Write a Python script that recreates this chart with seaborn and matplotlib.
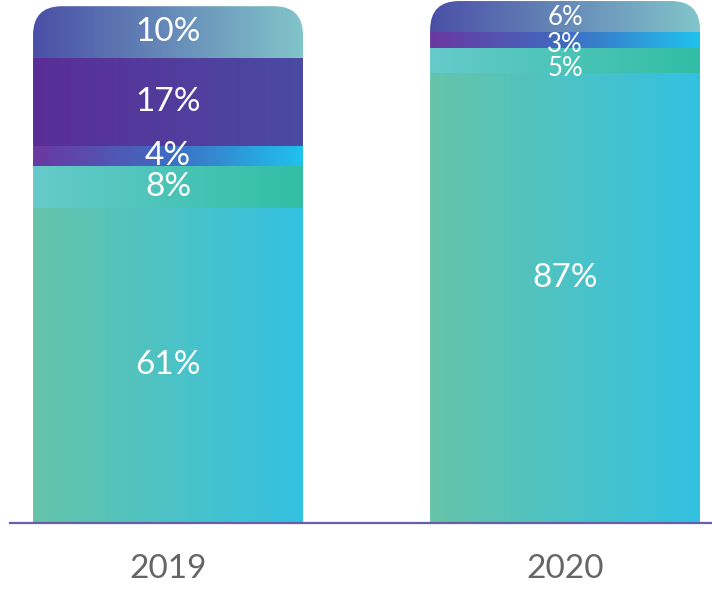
import numpy as np
import pandas as pd
import matplotlib
matplotlib.use("Agg")
import matplotlib.pyplot as plt
import seaborn as sns
from matplotlib.colors import LinearSegmentedColormap
from matplotlib.patches import FancyBboxPatch

# Share of each tier per year, listed bottom to top of the stack
years = ["2019", "2020"]
tiers = ["tier_1", "tier_2", "tier_3", "tier_4", "tier_5"]
share_2019 = [61, 8, 4, 17, 10]
share_2020 = [87, 5, 3, 0, 6]

# Horizontal gradient (left colour, right colour) for each tier
tier_gradients = [
    ["#66c4a9", "#33c1e2"],
    ["#66cacb", "#31bea5"],
    ["#6b389f", "#3f6bc2", "#1fc2ee"],
    ["#5a2d96", "#4a4ba3"],
    ["#4a4fa6", "#82c5ca"],
]

rows = []
for year, shares in zip(years, [share_2019, share_2020]):
    cum = 0
    for tier, v in zip(tiers, shares):
        rows.append({"year": year, "tier": tier, "share": v,
                     "bottom": cum, "top": cum + v})
        cum += v
df = pd.DataFrame(rows)

sns.set_theme(style="white")
plt.rcParams["font.family"] = ["Lato", "DejaVu Sans"]

W, H = 712, 590
fig = plt.figure(figsize=(W / 100, H / 100), dpi=100)
ax = fig.add_axes([10 / W, (H - 523) / H, 702 / W, 523 / H])

bar_w = 0.68
# Draw the cumulative stack with seaborn, top tier first so lower tiers overlay
layer_patches = {}
for tier in reversed(tiers):
    sub = df[df["tier"] == tier]
    n0 = len(ax.patches)
    sns.barplot(data=sub, x="year", y="top", order=years, ax=ax,
                width=bar_w, color="#888888", saturation=1, errorbar=None)
    layer_patches[tier] = ax.patches[n0:]

ax.set_xlim(-0.398, 1.370)
ax.set_ylim(0, 101.2)

# rounded top-corner clip shape per bar, in data units
px_x = ax.transData.transform((1, 0))[0] - ax.transData.transform((0, 0))[0]
px_y = ax.transData.transform((0, 1))[1] - ax.transData.transform((0, 0))[1]
radius_px = 29
r_x = radius_px / px_x
aspect = px_x / px_y

clips = {}
for i, year in enumerate(years):
    top = df[df["year"] == year]["top"].max()
    clip = FancyBboxPatch((i - bar_w / 2, -30), bar_w, top + 30,
                          boxstyle=f"round,pad=0,rounding_size={r_x}",
                          mutation_aspect=aspect, transform=ax.transData,
                          facecolor="none", edgecolor="none")
    ax.add_patch(clip)
    clips[year] = clip

# value label sizes and small vertical nudges (data units) per year
label_size = {"2019": 24, "2020": 18.5}
label_nudge = {"2019": [0, 0, 0, 0, 0], "2020": [4, -1.6, -0.9, 0, -0.2]}

grad = np.linspace(0, 1, 256).reshape(1, -1)
for ti, tier in enumerate(tiers):
    cmap = LinearSegmentedColormap.from_list(tier, tier_gradients[ti])
    for patch in layer_patches[tier]:
        patch.set_visible(False)
    for i, year in enumerate(years):
        row = df[(df["year"] == year) & (df["tier"] == tier)].iloc[0]
        if row["share"] <= 0:
            continue
        x0 = i - bar_w / 2
        im = ax.imshow(grad, cmap=cmap, aspect="auto", interpolation="bicubic",
                       extent=[x0, x0 + bar_w, row["bottom"], row["top"]],
                       zorder=2)
        im.set_clip_path(clips[year])
        y_lab = (row["bottom"] + row["top"]) / 2 + label_nudge[year][ti]
        size = label_size[year] if row["share"] < 10 or year == "2019" else 24
        ax.text(i, y_lab, f"{row['share']}%",
                ha="center", va="center", color="white",
                fontsize=size, fontweight="normal", zorder=3)

ax.set_xlim(-0.398, 1.370)
ax.set_ylim(0, 101.2)

for side in ["top", "right", "left"]:
    ax.spines[side].set_visible(False)
ax.spines["bottom"].set_color("#6b5ca8")
ax.spines["bottom"].set_linewidth(1.6)
ax.spines["bottom"].set_zorder(4)
ax.set_yticks([])
ax.set_xlabel("")
ax.set_ylabel("")
ax.tick_params(axis="x", length=0, pad=22, labelsize=24, labelcolor="#666666")
ax.patch.set_alpha(0)

fig.savefig("out.png", dpi=100, facecolor="white")
